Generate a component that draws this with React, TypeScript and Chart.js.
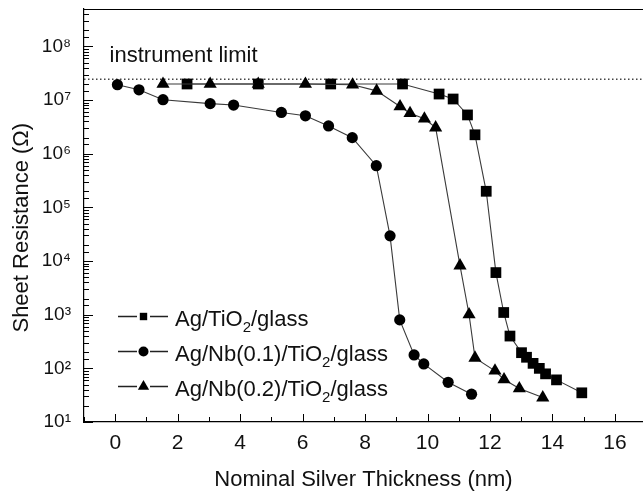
import React, { useEffect, useRef } from 'react';
import { Chart, registerables } from 'chart.js';

Chart.register(...registerables);

// ---- data ----
const agTiO2X = [2.3, 4.58, 6.9, 9.2, 10.37, 10.82, 11.28, 11.52, 11.88, 12.19, 12.44, 12.64, 13.01, 13.17, 13.38, 13.58, 13.78, 14.13, 14.94];
const agTiO2Y = [2.0e7, 2.0e7, 2.0e7, 2.0e7, 1.3e7, 1.05e7, 5.3e6, 2.26e6, 2.0e5, 6.1e3, 1.1e3, 400, 196, 161, 124, 100, 79, 61, 35];

const agNb01X = [0.07, 0.76, 1.53, 3.04, 3.79, 5.32, 6.09, 6.83, 7.59, 8.36, 8.8, 9.11, 9.57, 9.88, 10.66, 11.41];
const agNb01Y = [1.94e7, 1.56e7, 1.02e7, 8.6e6, 8.1e6, 5.9e6, 5.1e6, 3.3e6, 2.0e6, 6.0e5, 2.95e4, 800, 178, 121, 55, 33];

const agNb02X = [1.53, 3.04, 4.58, 6.09, 7.6, 8.37, 9.12, 9.44, 9.9, 10.26, 11.04, 11.33, 11.52, 12.16, 12.45, 12.94, 13.69];
const agNb02Y = [2.0e7, 2.0e7, 2.0e7, 2.0e7, 1.93e7, 1.49e7, 7.6e6, 5.7e6, 4.5e6, 3.07e6, 8.2e3, 1.01e3, 157, 90, 62, 42, 28.5];

const instrumentLimit = 2.45e7;
const instrumentLabel = 'instrument limit';

const seriesNames = ['Ag/TiO2/glass', 'Ag/Nb(0.1)/TiO2/glass', 'Ag/Nb(0.2)/TiO2/glass'];
const seriesMarkers = ['rect', 'circle', 'triangle'];

const xTickLabels = [0, 2, 4, 6, 8, 10, 12, 14, 16];
const yTickExponents = [1, 2, 3, 4, 5, 6, 7, 8];
const xRange = [-1, 16.9];
const yRange = [10, 5e8];

const xTitle = 'Nominal Silver Thickness (nm)';
const yTitle = 'Sheet Resistance (\u03A9)';

const SUP = ['\u2070', '\u00B9', '\u00B2', '\u00B3', '\u2074', '\u2075', '\u2076', '\u2077', '\u2078', '\u2079'];
const FONT = '"Liberation Sans", Arial, Helvetica, sans-serif';
const INK = '#111';

const toPoints = (xs: number[], ys: number[]) => xs.map((x, i) => ({ x, y: ys[i] }));

function isMajorX(v: number) {
  const r = Math.round(v);
  return Math.abs(v - r) < 1e-6 && xTickLabels.includes(r);
}
function decadeOf(v: number): number | null {
  const e = Math.log10(v);
  const r = Math.round(e);
  return Math.abs(e - r) < 1e-6 ? r : null;
}

function drawMarker(ctx: CanvasRenderingContext2D, style: string, x: number, y: number) {
  ctx.beginPath();
  if (style === 'rect') {
    const s = 3.7;
    ctx.rect(x - s, y - s, 2 * s, 2 * s);
  } else if (style === 'circle') {
    ctx.arc(x, y, 5, 0, Math.PI * 2);
  } else {
    const r = 6.5;
    ctx.moveTo(x, y - r);
    ctx.lineTo(x + r * Math.sin((2 * Math.PI) / 3), y - r * Math.cos((2 * Math.PI) / 3));
    ctx.lineTo(x + r * Math.sin((4 * Math.PI) / 3), y - r * Math.cos((4 * Math.PI) / 3));
    ctx.closePath();
  }
  ctx.fill();
}

function drawSubText(ctx: CanvasRenderingContext2D, text: string, x: number, y: number) {
  const parts = text.split('TiO2');
  let cx = x;
  parts.forEach((p, i) => {
    ctx.font = `22px ${FONT}`;
    ctx.fillText(p, cx, y);
    cx += ctx.measureText(p).width;
    if (i < parts.length - 1) {
      ctx.fillText('TiO', cx, y);
      cx += ctx.measureText('TiO').width;
      ctx.font = `15px ${FONT}`;
      ctx.fillText('2', cx, y + 6);
      cx += ctx.measureText('2').width;
    }
  });
}

const decorPlugin = {
  id: 'decor',
  afterDraw(chart: any) {
    const { ctx, chartArea: a, scales } = chart;
    const xs = scales.x;
    const ys = scales.y;
    ctx.save();
    ctx.strokeStyle = '#000';
    // top frame line
    ctx.lineWidth = 1.2;
    ctx.beginPath();
    ctx.moveTo(a.left, a.top + 0.5);
    ctx.lineTo(a.right, a.top + 0.5);
    ctx.stroke();
    // inward tick marks
    ctx.lineWidth = 1;
    xs.ticks.forEach((t: any) => {
      const px = Math.round(xs.getPixelForValue(t.value)) + 0.5;
      const len = isMajorX(t.value) ? 8 : 5;
      ctx.beginPath();
      ctx.moveTo(px, a.bottom);
      ctx.lineTo(px, a.bottom - len);
      ctx.stroke();
    });
    ys.ticks.forEach((t: any) => {
      const py = Math.round(ys.getPixelForValue(t.value)) + 0.5;
      const len = decadeOf(t.value) !== null ? 9 : 5;
      ctx.beginPath();
      ctx.moveTo(a.left, py);
      ctx.lineTo(a.left + len, py);
      ctx.stroke();
    });
    // instrument limit label
    ctx.fillStyle = INK;
    ctx.textBaseline = 'alphabetic';
    ctx.textAlign = 'left';
    ctx.font = `22px ${FONT}`;
    ctx.fillText(instrumentLabel, xs.getPixelForValue(-0.18), ys.getPixelForValue(instrumentLimit) - 17);
    // legend
    const rowY = [307.5, 342.5, 377.5];
    seriesNames.forEach((name, i) => {
      const y = a.top + rowY[i];
      const x0 = a.left + 34;
      ctx.strokeStyle = '#222';
      ctx.lineWidth = 1.4;
      ctx.beginPath();
      ctx.moveTo(x0, y);
      ctx.lineTo(x0 + 19, y);
      ctx.moveTo(x0 + 32, y);
      ctx.lineTo(x0 + 50, y);
      ctx.stroke();
      ctx.fillStyle = '#000';
      drawMarker(ctx, seriesMarkers[i], x0 + 25.5, y);
      ctx.fillStyle = INK;
      drawSubText(ctx, name, x0 + 57, y + 9.5);
    });
    ctx.restore();
  },
};

export default function App() {
  const ref = useRef<HTMLCanvasElement | null>(null);

  useEffect(() => {
    if (!ref.current) return;
    Chart.defaults.font.family = FONT;
    Chart.defaults.color = INK;
    const lineStyle = {
      borderColor: '#3a3a3a',
      borderWidth: 1.1,
      pointBackgroundColor: '#000',
      pointBorderWidth: 0,
      showLine: true,
      fill: false,
      tension: 0,
    };
    const chart = new Chart(ref.current, {
      type: 'scatter',
      data: {
        datasets: [
          { ...lineStyle, label: seriesNames[2], data: toPoints(agNb02X, agNb02Y), pointStyle: 'triangle', pointRadius: 7.6, pointHoverRadius: 7.6, order: 0 },
          { ...lineStyle, label: seriesNames[0], data: toPoints(agTiO2X, agTiO2Y), pointStyle: 'rect', pointRadius: 7.6, pointHoverRadius: 7.6, order: 1 },
          { ...lineStyle, label: seriesNames[1], data: toPoints(agNb01X, agNb01Y), pointStyle: 'circle', pointRadius: 5.6, pointHoverRadius: 5.6, order: 2 },
          {
            label: instrumentLabel,
            data: [
              { x: xRange[0], y: instrumentLimit },
              { x: xRange[1], y: instrumentLimit },
            ],
            showLine: true,
            borderColor: '#444',
            borderWidth: 1.3,
            borderDash: [1.5, 2.5],
            pointRadius: 0,
            pointHoverRadius: 0,
            order: 3,
          },
        ],
      },
      options: {
        animation: false,
        responsive: false,
        maintainAspectRatio: false,
        devicePixelRatio: 1,
        layout: { autoPadding: false, padding: { top: 9, right: 0, left: 0, bottom: 0 } },
        plugins: { legend: { display: false }, tooltip: { enabled: false } },
        scales: {
          x: {
            type: 'linear',
            min: xRange[0],
            max: xRange[1],
            grid: { display: false },
            border: { display: true, color: '#000', width: 1.2 },
            ticks: {
              stepSize: 1,
              autoSkip: false,
              includeBounds: false,
              maxRotation: 0,
              padding: 1,
              color: INK,
              font: { size: 21, family: FONT },
              callback: (v: any) => (isMajorX(Number(v)) ? String(Math.round(Number(v))) : ''),
            },
            title: { display: true, text: xTitle, color: INK, font: { size: 22, family: FONT }, padding: { top: 0, bottom: 6.5 } },
            afterFit: (s: any) => {
              s.height = 78;
              s.paddingLeft = 0;
              s.paddingRight = 0;
            },
          },
          y: {
            type: 'logarithmic',
            min: yRange[0],
            max: yRange[1],
            grid: { display: false },
            border: { display: true, color: '#000', width: 1.2 },
            ticks: {
              autoSkip: false,
              padding: 5,
              color: INK,
              font: { size: 19, family: FONT },
              callback: (v: any) => {
                const d = decadeOf(Number(v));
                return d !== null && yTickExponents.includes(d) ? '10' + SUP[d] : '';
              },
            },
            title: { display: true, text: yTitle + '\u00A0\u00A0\u00A0\u00A0', color: INK, font: { size: 22, family: FONT }, padding: { top: 9, bottom: 0 } },
            afterFit: (s: any) => {
              s.width = 84;
              s.paddingTop = 0;
              s.paddingBottom = 0;
            },
          },
        },
      },
      plugins: [decorPlugin],
    } as any);
    return () => chart.destroy();
  }, []);

  return (
    <div style={{ position: 'fixed', left: 0, top: 0, width: 643, height: 500, background: '#fff' }}>
      <canvas ref={ref} width={643} height={500} style={{ display: 'block', width: 643, height: 500 }} />
    </div>
  );
}
